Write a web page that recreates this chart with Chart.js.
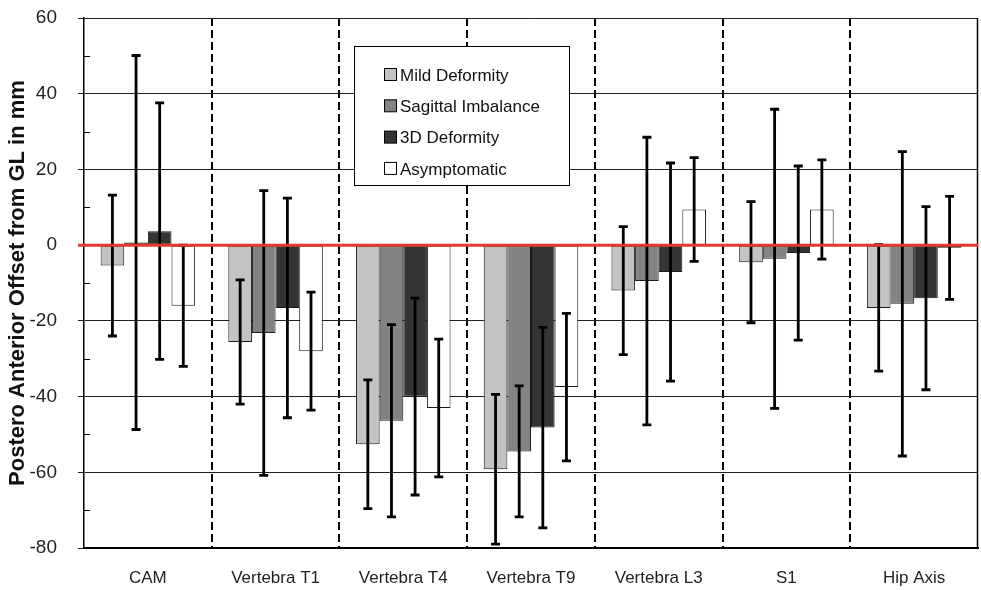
<!DOCTYPE html>
<html><head><meta charset="utf-8">
<script src="https://cdn.jsdelivr.net/npm/chart.js@4.4.1/dist/chart.umd.min.js"></script>
<style>html,body{margin:0;padding:0;background:#fff;}</style>
</head><body>
<canvas id="c" width="981" height="590"></canvas>
<script>
const categories = ['CAM', 'Vertebra T1', 'Vertebra T4', 'Vertebra T9', 'Vertebra L3', 'S1', 'Hip Axis'];
const seriesNames = ['Mild Deformity', 'Sagittal Imbalance', '3D Deformity', 'Asymptomatic'];
const mildMean = [-5.4, -25.6, -52.6, -59.2, -12.0, -4.5, -16.6];
const mildSD = [18.6, 16.4, 17.0, 19.8, 16.9, 16.0, 16.7];
const sagittalMean = [0.7, -23.2, -46.4, -54.5, -9.5, -3.6, -15.5];
const sagittalSD = [49.4, 37.6, 25.4, 17.3, 38.0, 39.5, 40.2];
const deformity3DMean = [3.7, -16.6, -40.0, -48.2, -7.1, -2.1, -14.0];
const deformity3DSD = [33.9, 29.0, 26.0, 26.5, 28.8, 23.0, 24.2];
const asymMean = [-16.0, -28.0, -43.0, -37.5, 9.4, 9.4, -0.7];
const asymSD = [16.0, 15.6, 18.2, 19.5, 13.7, 13.1, 13.6];
const yTicks = [-80, -60, -40, -20, 0, 20, 40, 60];

const FONT = "'Liberation Sans', Arial, sans-serif";
const fills = ['#c2c3c2', '#838383', '#333433', '#ffffff'];

const errorBars = {
  id: 'errorBars',
  afterDatasetsDraw(chart) {
    const ctx = chart.ctx, y = chart.scales.y, a = chart.chartArea;
    ctx.save();
    ctx.strokeStyle = '#000';
    ctx.lineWidth = 2.8;
    chart.data.datasets.forEach((ds, i) => {
      chart.getDatasetMeta(i).data.forEach((bar, j) => {
        const v = ds.data[j], sd = ds.errors[j];
        const x = bar.x, yt = y.getPixelForValue(v + sd), yb = y.getPixelForValue(v - sd);
        ctx.beginPath();
        ctx.moveTo(x, yt); ctx.lineTo(x, yb);
        ctx.moveTo(x - 4.5, yt); ctx.lineTo(x + 4.5, yt);
        ctx.moveTo(x - 4.5, yb); ctx.lineTo(x + 4.5, yb);
        ctx.stroke();
      });
    });
    // minor ticks inside
    ctx.lineWidth = 1;
    for (let v = yTicks[0] + 10; v < yTicks[yTicks.length - 1]; v += 20) {
      const py = Math.round(y.getPixelForValue(v)) + 0.5;
      ctx.beginPath(); ctx.moveTo(a.left, py); ctx.lineTo(a.left + 6, py); ctx.stroke();
    }
    // right border
    ctx.lineWidth = 1.5;
    ctx.beginPath(); ctx.moveTo(a.right - 0.5, a.top); ctx.lineTo(a.right - 0.5, a.bottom); ctx.stroke();
    // red zero line
    const y0 = y.getPixelForValue(0);
    ctx.strokeStyle = '#e23a2c';
    ctx.lineWidth = 3;
    ctx.beginPath(); ctx.moveTo(a.left - 6, y0); ctx.lineTo(a.right, y0); ctx.stroke();
    // legend
    const lx = 354, ly = 46, lw = 215, lh = 139;
    ctx.fillStyle = '#fff';
    ctx.fillRect(lx, ly, lw, lh);
    ctx.strokeStyle = '#000'; ctx.lineWidth = 1;
    ctx.strokeRect(lx + 0.5, ly + 0.5, lw, lh);
    ctx.font = '17px ' + FONT;
    ctx.textBaseline = 'middle';
    ctx.textAlign = 'left';
    chart.data.datasets.forEach((ds, i) => {
      const cy = 75 + i * 31.3;
      ctx.fillStyle = ds.backgroundColor;
      ctx.fillRect(384.5, cy - 6.5, 12, 12);
      ctx.strokeStyle = '#000';
      ctx.strokeRect(384.5, cy - 6.5, 12, 12);
      ctx.fillStyle = '#111';
      ctx.fillText(ds.label, 400, cy + 1);
    });
    ctx.restore();
  }
};

const means = [mildMean, sagittalMean, deformity3DMean, asymMean];
const sds = [mildSD, sagittalSD, deformity3DSD, asymSD];

new Chart(document.getElementById('c'), {
  type: 'bar',
  data: {
    labels: categories,
    datasets: seriesNames.map((n, i) => ({
      label: n,
      data: means[i],
      errors: sds[i],
      backgroundColor: fills[i],
      borderColor: '#1a1a1a',
      borderWidth: 1,
      borderSkipped: false,
      categoryPercentage: 0.74,
      barPercentage: 1.0
    }))
  },
  options: {
    responsive: false,
    animation: false,
    devicePixelRatio: 1,
    layout: { padding: { left: 0, right: 3, top: 18, bottom: 0 } },
    plugins: { legend: { display: false }, tooltip: { enabled: false } },
    scales: {
      x: {
        grid: {
          offset: true,
          drawTicks: false,
          color: (c) => (c.type !== 'tick' || c.index === 0) ? 'rgba(0,0,0,0)' : '#000',
          lineWidth: 2
        },
        border: { display: true, color: '#000', width: 2, dash: [8, 4] },
        ticks: { color: '#222', font: { family: FONT, size: 17 }, padding: 20 },
        afterFit: (s) => { s.height = 42; s.paddingLeft = 0; s.paddingRight = 0; }
      },
      y: {
        min: -80, max: 60,
        afterBuildTicks: (s) => { s.ticks = yTicks.map(v => ({ value: v })); },
        grid: {
          color: (c) => (c.tick && c.tick.value === 0) ? 'rgba(0,0,0,0)' : '#222',
          lineWidth: 1,
          tickLength: 6
        },
        border: { display: true, color: '#000', width: 1.5 },
        ticks: { color: '#222', font: { family: FONT, size: 19 }, padding: 21 },
        title: {
          display: true,
          text: 'Postero Anterior Offset from GL in mm',
          color: '#111',
          font: { family: FONT, size: 22, weight: 'bold' },
          padding: { top: 5, bottom: 0 }
        },
        afterFit: (s) => { s.width = 84; s.paddingTop = 0; s.paddingBottom = 0; }
      }
    }
  },
  plugins: [errorBars]
});
</script>
</body></html>
